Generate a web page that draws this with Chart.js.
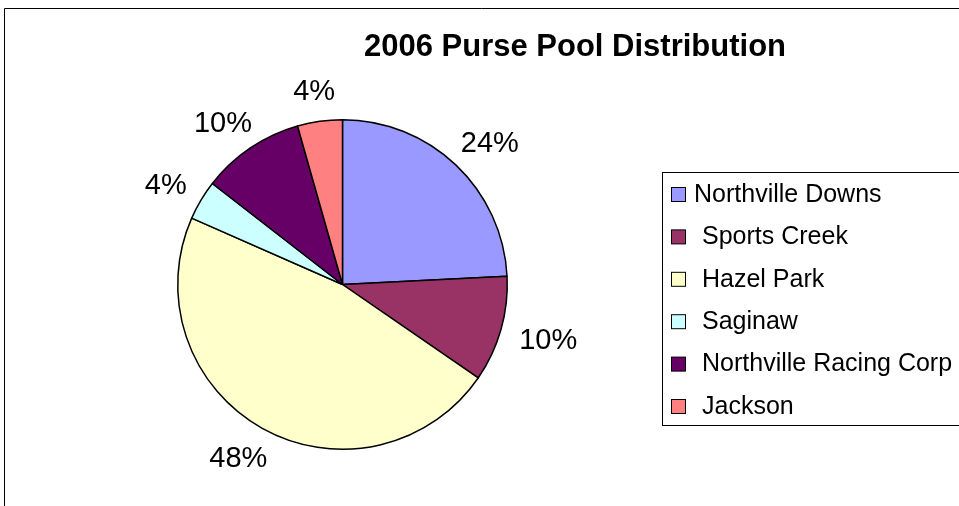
<!DOCTYPE html>
<html>
<head>
<meta charset="utf-8">
<script src="https://cdn.jsdelivr.net/npm/chart.js@4.4.1/dist/chart.umd.min.js"></script>
<style>
html,body{margin:0;padding:0;background:#fff;}
canvas{display:block;}
</style>
</head>
<body>
<canvas id="c" width="959" height="506"></canvas>
<script>
// ---- data ----
const chartTitle = '2006 Purse Pool Distribution';
const categories = ['Northville Downs', 'Sports Creek', 'Hazel Park', 'Saginaw', 'Northville Racing Corp', 'Jackson'];
const shares = [24.2, 10.4, 47.0, 3.9, 10.1, 4.4];
const pctLabels = ['24%', '10%', '48%', '4%', '10%', '4%'];
const sliceColors = ['#9999FF', '#993366', '#FFFFCC', '#CCFFFF', '#660066', '#FF8080'];

const FONT = '"Liberation Sans", Arial, Helvetica, sans-serif';

const framePlugin = {
  id: 'frame',
  beforeDraw(chart) {
    const ctx = chart.ctx;
    ctx.save();
    ctx.fillStyle = '#fff';
    ctx.fillRect(0, 0, chart.width, chart.height);
    ctx.strokeStyle = '#000';
    ctx.lineWidth = 1;
    ctx.beginPath();
    ctx.moveTo(4.5, chart.height);
    ctx.lineTo(4.5, 8.5);
    ctx.lineTo(chart.width, 8.5);
    ctx.stroke();
    // title
    ctx.fillStyle = '#000';
    ctx.font = 'bold 31px ' + FONT;
    ctx.textAlign = 'center';
    ctx.textBaseline = 'alphabetic';
    ctx.fillText(chartTitle, 575, 56);
    ctx.restore();
  },
  afterDraw(chart) {
    const ctx = chart.ctx;
    const meta = chart.getDatasetMeta(0);
    ctx.save();
    // percentage labels
    ctx.font = '29px ' + FONT;
    ctx.fillStyle = '#000';
    ctx.textAlign = 'center';
    ctx.textBaseline = 'alphabetic';
    const capH = 21;
    meta.data.forEach((arc, i) => {
      const p = arc.getProps(['x', 'y', 'startAngle', 'endAngle', 'outerRadius'], true);
      const m = (p.startAngle + p.endAngle) / 2;
      const dx = Math.cos(m), dy = Math.sin(m);
      const g = 20;
      const txt = pctLabels[i];
      const w = ctx.measureText(txt).width;
      const px = p.x + (p.outerRadius + g) * dx;
      const py = p.y + (p.outerRadius + g) * dy;
      const cx = px + (w / 2) * dx;
      const cy = py + (capH / 2 + 2) * dy;
      ctx.fillText(txt, cx, cy + capH / 2);
    });
    // legend
    const lx = 662.5, ly = 172.5, lw = 310, lh = 253;
    ctx.strokeStyle = '#000';
    ctx.lineWidth = 1;
    ctx.strokeRect(lx, ly, lw, lh);
    ctx.font = '25px ' + FONT;
    ctx.textAlign = 'left';
    ctx.textBaseline = 'middle';
    const step = 42.4;
    categories.forEach((name, i) => {
      const cy = 195 + i * step;
      ctx.fillStyle = sliceColors[i];
      ctx.fillRect(671.5, cy - 7.5, 14, 14);
      ctx.strokeStyle = '#000';
      ctx.strokeRect(671.5, cy - 7.5, 14, 14);
      ctx.fillStyle = '#000';
      ctx.fillText(name, i === 0 ? 694 : 702, cy);
    });
    ctx.restore();
  }
};

new Chart(document.getElementById('c'), {
  type: 'pie',
  data: {
    labels: categories,
    datasets: [{
      data: shares,
      backgroundColor: sliceColors,
      borderColor: '#000',
      borderWidth: 1.5
    }]
  },
  options: {
    responsive: false,
    animation: false,
    layout: { padding: { top: 119, bottom: 56, left: 177, right: 451 } },
    plugins: {
      legend: { display: false },
      title: { display: false },
      tooltip: { enabled: false }
    }
  },
  plugins: [framePlugin]
});
</script>
</body>
</html>
